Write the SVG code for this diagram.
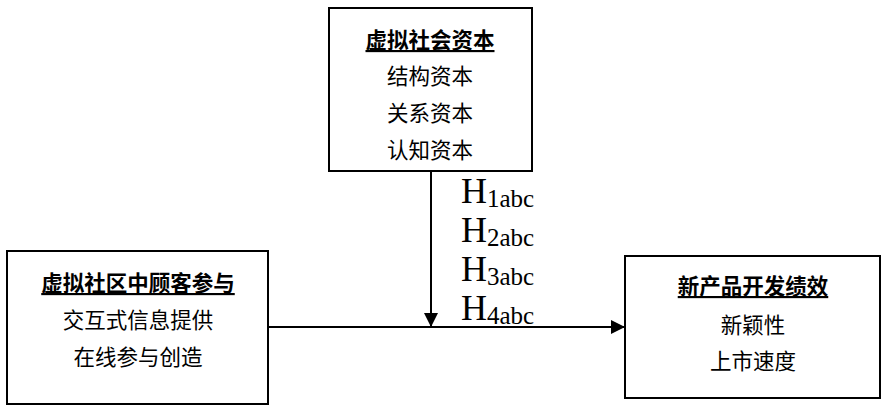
<svg xmlns="http://www.w3.org/2000/svg" width="886" height="412" viewBox="0 0 886 412">
<defs>
<marker id="arr" viewBox="0 0 14 14" refX="14" refY="7" markerWidth="14" markerHeight="14" markerUnits="userSpaceOnUse" orient="auto">
<path d="M0,0 L14,7 L0,14 Z" fill="#000"/>
</marker>
</defs>
<style>
.box{fill:#fff;stroke:#000;stroke-width:2}
.t{font-family:"Noto Sans CJK SC","Noto Sans",sans-serif;font-size:21.5px;fill:#000;text-anchor:middle}
.b{font-weight:bold;text-decoration:underline}
.h{font-family:"Liberation Serif",serif;font-size:36px;fill:#000}
.s{font-size:25px}
.ln{stroke:#000;stroke-width:2;fill:none}
</style>
<rect width="886" height="412" fill="#fff"/>
<g id="connectors">
<line class="ln" x1="431" y1="171" x2="431" y2="327" marker-end="url(#arr)"/>
<line class="ln" x1="268" y1="327" x2="625" y2="327" marker-end="url(#arr)"/>
</g>
<g id="node-capital">
<rect class="box" x="329" y="8" width="203" height="163"/>
<text class="t b" x="430" y="48">虚拟社会资本</text>
<text class="t" x="430" y="84">结构资本</text>
<text class="t" x="430" y="121">关系资本</text>
<text class="t" x="430" y="158">认知资本</text>
</g>
<g id="node-participation">
<rect class="box" x="7" y="251" width="261" height="153"/>
<text class="t b" x="138" y="291">虚拟社区中顾客参与</text>
<text class="t" x="138" y="328">交互式信息提供</text>
<text class="t" x="138" y="365">在线参与创造</text>
</g>
<g id="node-performance">
<rect class="box" x="625" y="256" width="255" height="142"/>
<text class="t b" x="753" y="294">新产品开发绩效</text>
<text class="t" x="753" y="333">新颖性</text>
<text class="t" x="753" y="369">上市速度</text>
</g>
<g id="labels">
<text class="h" x="461" y="203">H<tspan class="s" dy="4">1abc</tspan></text>
<text class="h" x="461" y="242">H<tspan class="s" dy="4">2abc</tspan></text>
<text class="h" x="461" y="281">H<tspan class="s" dy="4">3abc</tspan></text>
<text class="h" x="461" y="320">H<tspan class="s" dy="4">4abc</tspan></text>
</g>
</svg>
